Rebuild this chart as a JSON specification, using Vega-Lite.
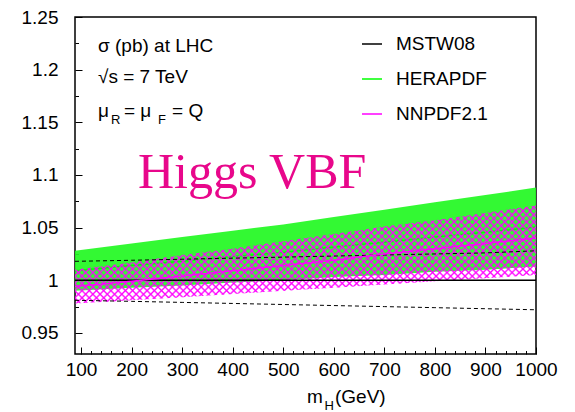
{
  "$schema": "https://vega.github.io/schema/vega-lite/v6.json",
  "width": 461,
  "height": 337,
  "autosize": "none",
  "padding": {"left": 75, "top": 17, "right": 39, "bottom": 58},
  "background": "white",
  "config": {
    "view": {"stroke": "black", "strokeWidth": 1.5},
    "font": "Liberation Sans",
    "axis": {"grid": false, "domain": false, "tickColor": "black", "tickWidth": 1, "labelColor": "black", "labelFont": "Liberation Sans", "labelFontSize": 19, "title": null},
    "text": {"font": "Liberation Sans", "fontSize": 19, "align": "left", "baseline": "alphabetic", "color": "black"}
  },
  "datasets": {
    "curves": [
      {"m": 88, "pdf": "MSTW08", "lo": 0.981, "c": 1.0, "hi": 1.018},
      {"m": 200, "pdf": "MSTW08", "lo": 0.980, "c": 1.0, "hi": 1.019},
      {"m": 300, "pdf": "MSTW08", "lo": 0.979, "c": 1.0, "hi": 1.020},
      {"m": 400, "pdf": "MSTW08", "lo": 0.978, "c": 1.0, "hi": 1.021},
      {"m": 500, "pdf": "MSTW08", "lo": 0.977, "c": 1.0, "hi": 1.022},
      {"m": 600, "pdf": "MSTW08", "lo": 0.976, "c": 1.0, "hi": 1.023},
      {"m": 700, "pdf": "MSTW08", "lo": 0.975, "c": 1.0, "hi": 1.024},
      {"m": 800, "pdf": "MSTW08", "lo": 0.974, "c": 1.0, "hi": 1.025},
      {"m": 900, "pdf": "MSTW08", "lo": 0.973, "c": 1.0, "hi": 1.026},
      {"m": 1000, "pdf": "MSTW08", "lo": 0.972, "c": 1.0, "hi": 1.028},
      {"m": 88, "pdf": "HERAPDF", "lo": 0.990, "c": 1.009, "hi": 1.028},
      {"m": 200, "pdf": "HERAPDF", "lo": 0.993, "c": 1.014, "hi": 1.035},
      {"m": 300, "pdf": "HERAPDF", "lo": 0.995, "c": 1.018, "hi": 1.041},
      {"m": 400, "pdf": "HERAPDF", "lo": 0.998, "c": 1.0225, "hi": 1.047},
      {"m": 500, "pdf": "HERAPDF", "lo": 1.000, "c": 1.0265, "hi": 1.053},
      {"m": 600, "pdf": "HERAPDF", "lo": 1.003, "c": 1.0315, "hi": 1.060},
      {"m": 700, "pdf": "HERAPDF", "lo": 1.005, "c": 1.036, "hi": 1.067},
      {"m": 800, "pdf": "HERAPDF", "lo": 1.008, "c": 1.041, "hi": 1.074},
      {"m": 900, "pdf": "HERAPDF", "lo": 1.010, "c": 1.0455, "hi": 1.081},
      {"m": 1000, "pdf": "HERAPDF", "lo": 1.013, "c": 1.0505, "hi": 1.088},
      {"m": 88, "pdf": "NNPDF2.1", "lo": 0.978, "c": 0.994, "hi": 1.010},
      {"m": 200, "pdf": "NNPDF2.1", "lo": 0.981, "c": 0.999, "hi": 1.017},
      {"m": 300, "pdf": "NNPDF2.1", "lo": 0.984, "c": 1.004, "hi": 1.024},
      {"m": 400, "pdf": "NNPDF2.1", "lo": 0.987, "c": 1.009, "hi": 1.030},
      {"m": 500, "pdf": "NNPDF2.1", "lo": 0.990, "c": 1.014, "hi": 1.037},
      {"m": 600, "pdf": "NNPDF2.1", "lo": 0.993, "c": 1.019, "hi": 1.044},
      {"m": 700, "pdf": "NNPDF2.1", "lo": 0.996, "c": 1.025, "hi": 1.051},
      {"m": 800, "pdf": "NNPDF2.1", "lo": 0.999, "c": 1.030, "hi": 1.057},
      {"m": 900, "pdf": "NNPDF2.1", "lo": 1.002, "c": 1.035, "hi": 1.064},
      {"m": 1000, "pdf": "NNPDF2.1", "lo": 1.005, "c": 1.040, "hi": 1.071}
    ]
  },
  "data": {"name": "curves"},
  "resolve": {"axis": {"x": "independent", "y": "independent"}},
  "layer": [
    {
      "transform": [{"filter": "datum.pdf === 'HERAPDF'"}],
      "mark": {"type": "area", "fill": "#22f822", "opacity": 0.92},
      "encoding": {
        "x": {"field": "m", "type": "quantitative", "scale": {"domain": [88, 1000], "nice": false, "zero": false},
              "axis": {"orient": "bottom", "values": [100, 200, 300, 400, 500, 600, 700, 800, 900, 1000], "format": "d", "tickSize": -7, "labelPadding": 13, "labelFlush": false}},
        "y": {"field": "lo", "type": "quantitative", "scale": {"domain": [0.93, 1.25], "nice": false, "zero": false},
              "axis": {"orient": "left", "values": [0.95, 1, 1.05, 1.1, 1.15, 1.2, 1.25], "format": "~g", "tickSize": -7, "labelPadding": 24, "labelFlush": false}},
        "y2": {"field": "hi"}
      }
    },
    {
      "transform": [{"filter": "datum.pdf === 'HERAPDF'"}],
      "mark": {"type": "line", "stroke": "#00ff00", "strokeWidth": 1.5},
      "encoding": {
        "x": {"field": "m", "type": "quantitative", "scale": {"domain": [88, 1000], "nice": false, "zero": false},
              "axis": {"orient": "bottom", "values": [120, 140, 160, 180, 220, 240, 260, 280, 320, 340, 360, 380, 420, 440, 460, 480, 520, 540, 560, 580, 620, 640, 660, 680, 720, 740, 760, 780, 820, 840, 860, 880, 920, 940, 960, 980], "labels": false, "tickSize": -3.5}},
        "y": {"field": "c", "type": "quantitative", "scale": {"domain": [0.93, 1.25], "nice": false, "zero": false},
              "axis": {"orient": "left", "values": [0.975, 1.025, 1.075, 1.125, 1.175, 1.225], "labels": false, "tickSize": -3.5}}
      }
    },
    {
      "transform": [{"filter": "datum.pdf === 'NNPDF2.1'"}],
      "mark": {"type": "area", "fill": {"gradient": "linear", "x1": 0, "y1": 0, "x2": 1.2, "y2": 0.2551, "stops": [
        {"offset": 0, "color": "rgba(255,0,255,0)"}, {"offset": 0.006, "color": "rgba(255,0,255,0)"}, {"offset": 0.0095, "color": "#ff00ff"}, {"offset": 0.0125, "color": "rgba(255,0,255,0)"}, {"offset": 0.0185, "color": "rgba(255,0,255,0)"}, {"offset": 0.022, "color": "#ff00ff"}, {"offset": 0.025, "color": "rgba(255,0,255,0)"}, {"offset": 0.031, "color": "rgba(255,0,255,0)"}, {"offset": 0.0345, "color": "#ff00ff"}, {"offset": 0.0375, "color": "rgba(255,0,255,0)"}, {"offset": 0.0435, "color": "rgba(255,0,255,0)"}, {"offset": 0.047, "color": "#ff00ff"},
        {"offset": 0.05, "color": "rgba(255,0,255,0)"}, {"offset": 0.056, "color": "rgba(255,0,255,0)"}, {"offset": 0.0595, "color": "#ff00ff"}, {"offset": 0.0625, "color": "rgba(255,0,255,0)"}, {"offset": 0.0685, "color": "rgba(255,0,255,0)"}, {"offset": 0.072, "color": "#ff00ff"}, {"offset": 0.075, "color": "rgba(255,0,255,0)"}, {"offset": 0.081, "color": "rgba(255,0,255,0)"}, {"offset": 0.0845, "color": "#ff00ff"}, {"offset": 0.0875, "color": "rgba(255,0,255,0)"}, {"offset": 0.0935, "color": "rgba(255,0,255,0)"}, {"offset": 0.097, "color": "#ff00ff"},
        {"offset": 0.1, "color": "rgba(255,0,255,0)"}, {"offset": 0.106, "color": "rgba(255,0,255,0)"}, {"offset": 0.1095, "color": "#ff00ff"}, {"offset": 0.1125, "color": "rgba(255,0,255,0)"}, {"offset": 0.1185, "color": "rgba(255,0,255,0)"}, {"offset": 0.122, "color": "#ff00ff"}, {"offset": 0.125, "color": "rgba(255,0,255,0)"}, {"offset": 0.131, "color": "rgba(255,0,255,0)"}, {"offset": 0.1345, "color": "#ff00ff"}, {"offset": 0.1375, "color": "rgba(255,0,255,0)"}, {"offset": 0.1435, "color": "rgba(255,0,255,0)"}, {"offset": 0.147, "color": "#ff00ff"},
        {"offset": 0.15, "color": "rgba(255,0,255,0)"}, {"offset": 0.156, "color": "rgba(255,0,255,0)"}, {"offset": 0.1595, "color": "#ff00ff"}, {"offset": 0.1625, "color": "rgba(255,0,255,0)"}, {"offset": 0.1685, "color": "rgba(255,0,255,0)"}, {"offset": 0.172, "color": "#ff00ff"}, {"offset": 0.175, "color": "rgba(255,0,255,0)"}, {"offset": 0.181, "color": "rgba(255,0,255,0)"}, {"offset": 0.1845, "color": "#ff00ff"}, {"offset": 0.1875, "color": "rgba(255,0,255,0)"}, {"offset": 0.1935, "color": "rgba(255,0,255,0)"}, {"offset": 0.197, "color": "#ff00ff"},
        {"offset": 0.2, "color": "rgba(255,0,255,0)"}, {"offset": 0.206, "color": "rgba(255,0,255,0)"}, {"offset": 0.2095, "color": "#ff00ff"}, {"offset": 0.2125, "color": "rgba(255,0,255,0)"}, {"offset": 0.2185, "color": "rgba(255,0,255,0)"}, {"offset": 0.222, "color": "#ff00ff"}, {"offset": 0.225, "color": "rgba(255,0,255,0)"}, {"offset": 0.231, "color": "rgba(255,0,255,0)"}, {"offset": 0.2345, "color": "#ff00ff"}, {"offset": 0.2375, "color": "rgba(255,0,255,0)"}, {"offset": 0.2435, "color": "rgba(255,0,255,0)"}, {"offset": 0.247, "color": "#ff00ff"},
        {"offset": 0.25, "color": "rgba(255,0,255,0)"}, {"offset": 0.256, "color": "rgba(255,0,255,0)"}, {"offset": 0.2595, "color": "#ff00ff"}, {"offset": 0.2625, "color": "rgba(255,0,255,0)"}, {"offset": 0.2685, "color": "rgba(255,0,255,0)"}, {"offset": 0.272, "color": "#ff00ff"}, {"offset": 0.275, "color": "rgba(255,0,255,0)"}, {"offset": 0.281, "color": "rgba(255,0,255,0)"}, {"offset": 0.2845, "color": "#ff00ff"}, {"offset": 0.2875, "color": "rgba(255,0,255,0)"}, {"offset": 0.2935, "color": "rgba(255,0,255,0)"}, {"offset": 0.297, "color": "#ff00ff"},
        {"offset": 0.3, "color": "rgba(255,0,255,0)"}, {"offset": 0.306, "color": "rgba(255,0,255,0)"}, {"offset": 0.3095, "color": "#ff00ff"}, {"offset": 0.3125, "color": "rgba(255,0,255,0)"}, {"offset": 0.3185, "color": "rgba(255,0,255,0)"}, {"offset": 0.322, "color": "#ff00ff"}, {"offset": 0.325, "color": "rgba(255,0,255,0)"}, {"offset": 0.331, "color": "rgba(255,0,255,0)"}, {"offset": 0.3345, "color": "#ff00ff"}, {"offset": 0.3375, "color": "rgba(255,0,255,0)"}, {"offset": 0.3435, "color": "rgba(255,0,255,0)"}, {"offset": 0.347, "color": "#ff00ff"},
        {"offset": 0.35, "color": "rgba(255,0,255,0)"}, {"offset": 0.356, "color": "rgba(255,0,255,0)"}, {"offset": 0.3595, "color": "#ff00ff"}, {"offset": 0.3625, "color": "rgba(255,0,255,0)"}, {"offset": 0.3685, "color": "rgba(255,0,255,0)"}, {"offset": 0.372, "color": "#ff00ff"}, {"offset": 0.375, "color": "rgba(255,0,255,0)"}, {"offset": 0.381, "color": "rgba(255,0,255,0)"}, {"offset": 0.3845, "color": "#ff00ff"}, {"offset": 0.3875, "color": "rgba(255,0,255,0)"}, {"offset": 0.3935, "color": "rgba(255,0,255,0)"}, {"offset": 0.397, "color": "#ff00ff"},
        {"offset": 0.4, "color": "rgba(255,0,255,0)"}, {"offset": 0.406, "color": "rgba(255,0,255,0)"}, {"offset": 0.4095, "color": "#ff00ff"}, {"offset": 0.4125, "color": "rgba(255,0,255,0)"}, {"offset": 0.4185, "color": "rgba(255,0,255,0)"}, {"offset": 0.422, "color": "#ff00ff"}, {"offset": 0.425, "color": "rgba(255,0,255,0)"}, {"offset": 0.431, "color": "rgba(255,0,255,0)"}, {"offset": 0.4345, "color": "#ff00ff"}, {"offset": 0.4375, "color": "rgba(255,0,255,0)"}, {"offset": 0.4435, "color": "rgba(255,0,255,0)"}, {"offset": 0.447, "color": "#ff00ff"},
        {"offset": 0.45, "color": "rgba(255,0,255,0)"}, {"offset": 0.456, "color": "rgba(255,0,255,0)"}, {"offset": 0.4595, "color": "#ff00ff"}, {"offset": 0.4625, "color": "rgba(255,0,255,0)"}, {"offset": 0.4685, "color": "rgba(255,0,255,0)"}, {"offset": 0.472, "color": "#ff00ff"}, {"offset": 0.475, "color": "rgba(255,0,255,0)"}, {"offset": 0.481, "color": "rgba(255,0,255,0)"}, {"offset": 0.4845, "color": "#ff00ff"}, {"offset": 0.4875, "color": "rgba(255,0,255,0)"}, {"offset": 0.4935, "color": "rgba(255,0,255,0)"}, {"offset": 0.497, "color": "#ff00ff"},
        {"offset": 0.5, "color": "rgba(255,0,255,0)"}, {"offset": 0.506, "color": "rgba(255,0,255,0)"}, {"offset": 0.5095, "color": "#ff00ff"}, {"offset": 0.5125, "color": "rgba(255,0,255,0)"}, {"offset": 0.5185, "color": "rgba(255,0,255,0)"}, {"offset": 0.522, "color": "#ff00ff"}, {"offset": 0.525, "color": "rgba(255,0,255,0)"}, {"offset": 0.531, "color": "rgba(255,0,255,0)"}, {"offset": 0.5345, "color": "#ff00ff"}, {"offset": 0.5375, "color": "rgba(255,0,255,0)"}, {"offset": 0.5435, "color": "rgba(255,0,255,0)"}, {"offset": 0.547, "color": "#ff00ff"},
        {"offset": 0.55, "color": "rgba(255,0,255,0)"}, {"offset": 0.556, "color": "rgba(255,0,255,0)"}, {"offset": 0.5595, "color": "#ff00ff"}, {"offset": 0.5625, "color": "rgba(255,0,255,0)"}, {"offset": 0.5685, "color": "rgba(255,0,255,0)"}, {"offset": 0.572, "color": "#ff00ff"}, {"offset": 0.575, "color": "rgba(255,0,255,0)"}, {"offset": 0.581, "color": "rgba(255,0,255,0)"}, {"offset": 0.5845, "color": "#ff00ff"}, {"offset": 0.5875, "color": "rgba(255,0,255,0)"}, {"offset": 0.5935, "color": "rgba(255,0,255,0)"}, {"offset": 0.597, "color": "#ff00ff"},
        {"offset": 0.6, "color": "rgba(255,0,255,0)"}, {"offset": 0.606, "color": "rgba(255,0,255,0)"}, {"offset": 0.6095, "color": "#ff00ff"}, {"offset": 0.6125, "color": "rgba(255,0,255,0)"}, {"offset": 0.6185, "color": "rgba(255,0,255,0)"}, {"offset": 0.622, "color": "#ff00ff"}, {"offset": 0.625, "color": "rgba(255,0,255,0)"}, {"offset": 0.631, "color": "rgba(255,0,255,0)"}, {"offset": 0.6345, "color": "#ff00ff"}, {"offset": 0.6375, "color": "rgba(255,0,255,0)"}, {"offset": 0.6435, "color": "rgba(255,0,255,0)"}, {"offset": 0.647, "color": "#ff00ff"},
        {"offset": 0.65, "color": "rgba(255,0,255,0)"}, {"offset": 0.656, "color": "rgba(255,0,255,0)"}, {"offset": 0.6595, "color": "#ff00ff"}, {"offset": 0.6625, "color": "rgba(255,0,255,0)"}, {"offset": 0.6685, "color": "rgba(255,0,255,0)"}, {"offset": 0.672, "color": "#ff00ff"}, {"offset": 0.675, "color": "rgba(255,0,255,0)"}, {"offset": 0.681, "color": "rgba(255,0,255,0)"}, {"offset": 0.6845, "color": "#ff00ff"}, {"offset": 0.6875, "color": "rgba(255,0,255,0)"}, {"offset": 0.6935, "color": "rgba(255,0,255,0)"}, {"offset": 0.697, "color": "#ff00ff"},
        {"offset": 0.7, "color": "rgba(255,0,255,0)"}, {"offset": 0.706, "color": "rgba(255,0,255,0)"}, {"offset": 0.7095, "color": "#ff00ff"}, {"offset": 0.7125, "color": "rgba(255,0,255,0)"}, {"offset": 0.7185, "color": "rgba(255,0,255,0)"}, {"offset": 0.722, "color": "#ff00ff"}, {"offset": 0.725, "color": "rgba(255,0,255,0)"}, {"offset": 0.731, "color": "rgba(255,0,255,0)"}, {"offset": 0.7345, "color": "#ff00ff"}, {"offset": 0.7375, "color": "rgba(255,0,255,0)"}, {"offset": 0.7435, "color": "rgba(255,0,255,0)"}, {"offset": 0.747, "color": "#ff00ff"},
        {"offset": 0.75, "color": "rgba(255,0,255,0)"}, {"offset": 0.756, "color": "rgba(255,0,255,0)"}, {"offset": 0.7595, "color": "#ff00ff"}, {"offset": 0.7625, "color": "rgba(255,0,255,0)"}, {"offset": 0.7685, "color": "rgba(255,0,255,0)"}, {"offset": 0.772, "color": "#ff00ff"}, {"offset": 0.775, "color": "rgba(255,0,255,0)"}, {"offset": 0.781, "color": "rgba(255,0,255,0)"}, {"offset": 0.7845, "color": "#ff00ff"}, {"offset": 0.7875, "color": "rgba(255,0,255,0)"}, {"offset": 0.7935, "color": "rgba(255,0,255,0)"}, {"offset": 0.797, "color": "#ff00ff"},
        {"offset": 0.8, "color": "rgba(255,0,255,0)"}, {"offset": 0.806, "color": "rgba(255,0,255,0)"}, {"offset": 0.8095, "color": "#ff00ff"}, {"offset": 0.8125, "color": "rgba(255,0,255,0)"}, {"offset": 0.8185, "color": "rgba(255,0,255,0)"}, {"offset": 0.822, "color": "#ff00ff"}, {"offset": 0.825, "color": "rgba(255,0,255,0)"}, {"offset": 0.831, "color": "rgba(255,0,255,0)"}, {"offset": 0.8345, "color": "#ff00ff"}, {"offset": 0.8375, "color": "rgba(255,0,255,0)"}, {"offset": 0.8435, "color": "rgba(255,0,255,0)"}, {"offset": 0.847, "color": "#ff00ff"},
        {"offset": 0.85, "color": "rgba(255,0,255,0)"}, {"offset": 0.856, "color": "rgba(255,0,255,0)"}, {"offset": 0.8595, "color": "#ff00ff"}, {"offset": 0.8625, "color": "rgba(255,0,255,0)"}, {"offset": 0.8685, "color": "rgba(255,0,255,0)"}, {"offset": 0.872, "color": "#ff00ff"}, {"offset": 0.875, "color": "rgba(255,0,255,0)"}, {"offset": 0.881, "color": "rgba(255,0,255,0)"}, {"offset": 0.8845, "color": "#ff00ff"}, {"offset": 0.8875, "color": "rgba(255,0,255,0)"}, {"offset": 0.8935, "color": "rgba(255,0,255,0)"}, {"offset": 0.897, "color": "#ff00ff"},
        {"offset": 0.9, "color": "rgba(255,0,255,0)"}, {"offset": 0.906, "color": "rgba(255,0,255,0)"}, {"offset": 0.9095, "color": "#ff00ff"}, {"offset": 0.9125, "color": "rgba(255,0,255,0)"}, {"offset": 0.9185, "color": "rgba(255,0,255,0)"}, {"offset": 0.922, "color": "#ff00ff"}, {"offset": 0.925, "color": "rgba(255,0,255,0)"}, {"offset": 0.931, "color": "rgba(255,0,255,0)"}, {"offset": 0.9345, "color": "#ff00ff"}, {"offset": 0.9375, "color": "rgba(255,0,255,0)"}, {"offset": 0.9435, "color": "rgba(255,0,255,0)"}, {"offset": 0.947, "color": "#ff00ff"},
        {"offset": 0.95, "color": "rgba(255,0,255,0)"}, {"offset": 0.956, "color": "rgba(255,0,255,0)"}, {"offset": 0.9595, "color": "#ff00ff"}, {"offset": 0.9625, "color": "rgba(255,0,255,0)"}, {"offset": 0.9685, "color": "rgba(255,0,255,0)"}, {"offset": 0.972, "color": "#ff00ff"}, {"offset": 0.975, "color": "rgba(255,0,255,0)"}, {"offset": 0.981, "color": "rgba(255,0,255,0)"}, {"offset": 0.9845, "color": "#ff00ff"}, {"offset": 0.9875, "color": "rgba(255,0,255,0)"}, {"offset": 0.9935, "color": "rgba(255,0,255,0)"}, {"offset": 0.997, "color": "#ff00ff"},
        {"offset": 1, "color": "rgba(255,0,255,0)"}
      ]}},
      "encoding": {
        "x": {"field": "m", "type": "quantitative", "scale": {"domain": [88, 1000], "nice": false, "zero": false}, "axis": null},
        "y": {"field": "lo", "type": "quantitative", "scale": {"domain": [0.93, 1.25], "nice": false, "zero": false}, "axis": null},
        "y2": {"field": "hi"}
      }
    },
    {
      "transform": [{"filter": "datum.pdf === 'NNPDF2.1'"}],
      "mark": {"type": "area", "fill": {"gradient": "linear", "x1": 0, "y1": 1, "x2": 1.2, "y2": 0.7449, "stops": [
        {"offset": 0, "color": "rgba(255,0,255,0)"}, {"offset": 0.006, "color": "rgba(255,0,255,0)"}, {"offset": 0.0095, "color": "#ff00ff"}, {"offset": 0.0125, "color": "rgba(255,0,255,0)"}, {"offset": 0.0185, "color": "rgba(255,0,255,0)"}, {"offset": 0.022, "color": "#ff00ff"}, {"offset": 0.025, "color": "rgba(255,0,255,0)"}, {"offset": 0.031, "color": "rgba(255,0,255,0)"}, {"offset": 0.0345, "color": "#ff00ff"}, {"offset": 0.0375, "color": "rgba(255,0,255,0)"}, {"offset": 0.0435, "color": "rgba(255,0,255,0)"}, {"offset": 0.047, "color": "#ff00ff"},
        {"offset": 0.05, "color": "rgba(255,0,255,0)"}, {"offset": 0.056, "color": "rgba(255,0,255,0)"}, {"offset": 0.0595, "color": "#ff00ff"}, {"offset": 0.0625, "color": "rgba(255,0,255,0)"}, {"offset": 0.0685, "color": "rgba(255,0,255,0)"}, {"offset": 0.072, "color": "#ff00ff"}, {"offset": 0.075, "color": "rgba(255,0,255,0)"}, {"offset": 0.081, "color": "rgba(255,0,255,0)"}, {"offset": 0.0845, "color": "#ff00ff"}, {"offset": 0.0875, "color": "rgba(255,0,255,0)"}, {"offset": 0.0935, "color": "rgba(255,0,255,0)"}, {"offset": 0.097, "color": "#ff00ff"},
        {"offset": 0.1, "color": "rgba(255,0,255,0)"}, {"offset": 0.106, "color": "rgba(255,0,255,0)"}, {"offset": 0.1095, "color": "#ff00ff"}, {"offset": 0.1125, "color": "rgba(255,0,255,0)"}, {"offset": 0.1185, "color": "rgba(255,0,255,0)"}, {"offset": 0.122, "color": "#ff00ff"}, {"offset": 0.125, "color": "rgba(255,0,255,0)"}, {"offset": 0.131, "color": "rgba(255,0,255,0)"}, {"offset": 0.1345, "color": "#ff00ff"}, {"offset": 0.1375, "color": "rgba(255,0,255,0)"}, {"offset": 0.1435, "color": "rgba(255,0,255,0)"}, {"offset": 0.147, "color": "#ff00ff"},
        {"offset": 0.15, "color": "rgba(255,0,255,0)"}, {"offset": 0.156, "color": "rgba(255,0,255,0)"}, {"offset": 0.1595, "color": "#ff00ff"}, {"offset": 0.1625, "color": "rgba(255,0,255,0)"}, {"offset": 0.1685, "color": "rgba(255,0,255,0)"}, {"offset": 0.172, "color": "#ff00ff"}, {"offset": 0.175, "color": "rgba(255,0,255,0)"}, {"offset": 0.181, "color": "rgba(255,0,255,0)"}, {"offset": 0.1845, "color": "#ff00ff"}, {"offset": 0.1875, "color": "rgba(255,0,255,0)"}, {"offset": 0.1935, "color": "rgba(255,0,255,0)"}, {"offset": 0.197, "color": "#ff00ff"},
        {"offset": 0.2, "color": "rgba(255,0,255,0)"}, {"offset": 0.206, "color": "rgba(255,0,255,0)"}, {"offset": 0.2095, "color": "#ff00ff"}, {"offset": 0.2125, "color": "rgba(255,0,255,0)"}, {"offset": 0.2185, "color": "rgba(255,0,255,0)"}, {"offset": 0.222, "color": "#ff00ff"}, {"offset": 0.225, "color": "rgba(255,0,255,0)"}, {"offset": 0.231, "color": "rgba(255,0,255,0)"}, {"offset": 0.2345, "color": "#ff00ff"}, {"offset": 0.2375, "color": "rgba(255,0,255,0)"}, {"offset": 0.2435, "color": "rgba(255,0,255,0)"}, {"offset": 0.247, "color": "#ff00ff"},
        {"offset": 0.25, "color": "rgba(255,0,255,0)"}, {"offset": 0.256, "color": "rgba(255,0,255,0)"}, {"offset": 0.2595, "color": "#ff00ff"}, {"offset": 0.2625, "color": "rgba(255,0,255,0)"}, {"offset": 0.2685, "color": "rgba(255,0,255,0)"}, {"offset": 0.272, "color": "#ff00ff"}, {"offset": 0.275, "color": "rgba(255,0,255,0)"}, {"offset": 0.281, "color": "rgba(255,0,255,0)"}, {"offset": 0.2845, "color": "#ff00ff"}, {"offset": 0.2875, "color": "rgba(255,0,255,0)"}, {"offset": 0.2935, "color": "rgba(255,0,255,0)"}, {"offset": 0.297, "color": "#ff00ff"},
        {"offset": 0.3, "color": "rgba(255,0,255,0)"}, {"offset": 0.306, "color": "rgba(255,0,255,0)"}, {"offset": 0.3095, "color": "#ff00ff"}, {"offset": 0.3125, "color": "rgba(255,0,255,0)"}, {"offset": 0.3185, "color": "rgba(255,0,255,0)"}, {"offset": 0.322, "color": "#ff00ff"}, {"offset": 0.325, "color": "rgba(255,0,255,0)"}, {"offset": 0.331, "color": "rgba(255,0,255,0)"}, {"offset": 0.3345, "color": "#ff00ff"}, {"offset": 0.3375, "color": "rgba(255,0,255,0)"}, {"offset": 0.3435, "color": "rgba(255,0,255,0)"}, {"offset": 0.347, "color": "#ff00ff"},
        {"offset": 0.35, "color": "rgba(255,0,255,0)"}, {"offset": 0.356, "color": "rgba(255,0,255,0)"}, {"offset": 0.3595, "color": "#ff00ff"}, {"offset": 0.3625, "color": "rgba(255,0,255,0)"}, {"offset": 0.3685, "color": "rgba(255,0,255,0)"}, {"offset": 0.372, "color": "#ff00ff"}, {"offset": 0.375, "color": "rgba(255,0,255,0)"}, {"offset": 0.381, "color": "rgba(255,0,255,0)"}, {"offset": 0.3845, "color": "#ff00ff"}, {"offset": 0.3875, "color": "rgba(255,0,255,0)"}, {"offset": 0.3935, "color": "rgba(255,0,255,0)"}, {"offset": 0.397, "color": "#ff00ff"},
        {"offset": 0.4, "color": "rgba(255,0,255,0)"}, {"offset": 0.406, "color": "rgba(255,0,255,0)"}, {"offset": 0.4095, "color": "#ff00ff"}, {"offset": 0.4125, "color": "rgba(255,0,255,0)"}, {"offset": 0.4185, "color": "rgba(255,0,255,0)"}, {"offset": 0.422, "color": "#ff00ff"}, {"offset": 0.425, "color": "rgba(255,0,255,0)"}, {"offset": 0.431, "color": "rgba(255,0,255,0)"}, {"offset": 0.4345, "color": "#ff00ff"}, {"offset": 0.4375, "color": "rgba(255,0,255,0)"}, {"offset": 0.4435, "color": "rgba(255,0,255,0)"}, {"offset": 0.447, "color": "#ff00ff"},
        {"offset": 0.45, "color": "rgba(255,0,255,0)"}, {"offset": 0.456, "color": "rgba(255,0,255,0)"}, {"offset": 0.4595, "color": "#ff00ff"}, {"offset": 0.4625, "color": "rgba(255,0,255,0)"}, {"offset": 0.4685, "color": "rgba(255,0,255,0)"}, {"offset": 0.472, "color": "#ff00ff"}, {"offset": 0.475, "color": "rgba(255,0,255,0)"}, {"offset": 0.481, "color": "rgba(255,0,255,0)"}, {"offset": 0.4845, "color": "#ff00ff"}, {"offset": 0.4875, "color": "rgba(255,0,255,0)"}, {"offset": 0.4935, "color": "rgba(255,0,255,0)"}, {"offset": 0.497, "color": "#ff00ff"},
        {"offset": 0.5, "color": "rgba(255,0,255,0)"}, {"offset": 0.506, "color": "rgba(255,0,255,0)"}, {"offset": 0.5095, "color": "#ff00ff"}, {"offset": 0.5125, "color": "rgba(255,0,255,0)"}, {"offset": 0.5185, "color": "rgba(255,0,255,0)"}, {"offset": 0.522, "color": "#ff00ff"}, {"offset": 0.525, "color": "rgba(255,0,255,0)"}, {"offset": 0.531, "color": "rgba(255,0,255,0)"}, {"offset": 0.5345, "color": "#ff00ff"}, {"offset": 0.5375, "color": "rgba(255,0,255,0)"}, {"offset": 0.5435, "color": "rgba(255,0,255,0)"}, {"offset": 0.547, "color": "#ff00ff"},
        {"offset": 0.55, "color": "rgba(255,0,255,0)"}, {"offset": 0.556, "color": "rgba(255,0,255,0)"}, {"offset": 0.5595, "color": "#ff00ff"}, {"offset": 0.5625, "color": "rgba(255,0,255,0)"}, {"offset": 0.5685, "color": "rgba(255,0,255,0)"}, {"offset": 0.572, "color": "#ff00ff"}, {"offset": 0.575, "color": "rgba(255,0,255,0)"}, {"offset": 0.581, "color": "rgba(255,0,255,0)"}, {"offset": 0.5845, "color": "#ff00ff"}, {"offset": 0.5875, "color": "rgba(255,0,255,0)"}, {"offset": 0.5935, "color": "rgba(255,0,255,0)"}, {"offset": 0.597, "color": "#ff00ff"},
        {"offset": 0.6, "color": "rgba(255,0,255,0)"}, {"offset": 0.606, "color": "rgba(255,0,255,0)"}, {"offset": 0.6095, "color": "#ff00ff"}, {"offset": 0.6125, "color": "rgba(255,0,255,0)"}, {"offset": 0.6185, "color": "rgba(255,0,255,0)"}, {"offset": 0.622, "color": "#ff00ff"}, {"offset": 0.625, "color": "rgba(255,0,255,0)"}, {"offset": 0.631, "color": "rgba(255,0,255,0)"}, {"offset": 0.6345, "color": "#ff00ff"}, {"offset": 0.6375, "color": "rgba(255,0,255,0)"}, {"offset": 0.6435, "color": "rgba(255,0,255,0)"}, {"offset": 0.647, "color": "#ff00ff"},
        {"offset": 0.65, "color": "rgba(255,0,255,0)"}, {"offset": 0.656, "color": "rgba(255,0,255,0)"}, {"offset": 0.6595, "color": "#ff00ff"}, {"offset": 0.6625, "color": "rgba(255,0,255,0)"}, {"offset": 0.6685, "color": "rgba(255,0,255,0)"}, {"offset": 0.672, "color": "#ff00ff"}, {"offset": 0.675, "color": "rgba(255,0,255,0)"}, {"offset": 0.681, "color": "rgba(255,0,255,0)"}, {"offset": 0.6845, "color": "#ff00ff"}, {"offset": 0.6875, "color": "rgba(255,0,255,0)"}, {"offset": 0.6935, "color": "rgba(255,0,255,0)"}, {"offset": 0.697, "color": "#ff00ff"},
        {"offset": 0.7, "color": "rgba(255,0,255,0)"}, {"offset": 0.706, "color": "rgba(255,0,255,0)"}, {"offset": 0.7095, "color": "#ff00ff"}, {"offset": 0.7125, "color": "rgba(255,0,255,0)"}, {"offset": 0.7185, "color": "rgba(255,0,255,0)"}, {"offset": 0.722, "color": "#ff00ff"}, {"offset": 0.725, "color": "rgba(255,0,255,0)"}, {"offset": 0.731, "color": "rgba(255,0,255,0)"}, {"offset": 0.7345, "color": "#ff00ff"}, {"offset": 0.7375, "color": "rgba(255,0,255,0)"}, {"offset": 0.7435, "color": "rgba(255,0,255,0)"}, {"offset": 0.747, "color": "#ff00ff"},
        {"offset": 0.75, "color": "rgba(255,0,255,0)"}, {"offset": 0.756, "color": "rgba(255,0,255,0)"}, {"offset": 0.7595, "color": "#ff00ff"}, {"offset": 0.7625, "color": "rgba(255,0,255,0)"}, {"offset": 0.7685, "color": "rgba(255,0,255,0)"}, {"offset": 0.772, "color": "#ff00ff"}, {"offset": 0.775, "color": "rgba(255,0,255,0)"}, {"offset": 0.781, "color": "rgba(255,0,255,0)"}, {"offset": 0.7845, "color": "#ff00ff"}, {"offset": 0.7875, "color": "rgba(255,0,255,0)"}, {"offset": 0.7935, "color": "rgba(255,0,255,0)"}, {"offset": 0.797, "color": "#ff00ff"},
        {"offset": 0.8, "color": "rgba(255,0,255,0)"}, {"offset": 0.806, "color": "rgba(255,0,255,0)"}, {"offset": 0.8095, "color": "#ff00ff"}, {"offset": 0.8125, "color": "rgba(255,0,255,0)"}, {"offset": 0.8185, "color": "rgba(255,0,255,0)"}, {"offset": 0.822, "color": "#ff00ff"}, {"offset": 0.825, "color": "rgba(255,0,255,0)"}, {"offset": 0.831, "color": "rgba(255,0,255,0)"}, {"offset": 0.8345, "color": "#ff00ff"}, {"offset": 0.8375, "color": "rgba(255,0,255,0)"}, {"offset": 0.8435, "color": "rgba(255,0,255,0)"}, {"offset": 0.847, "color": "#ff00ff"},
        {"offset": 0.85, "color": "rgba(255,0,255,0)"}, {"offset": 0.856, "color": "rgba(255,0,255,0)"}, {"offset": 0.8595, "color": "#ff00ff"}, {"offset": 0.8625, "color": "rgba(255,0,255,0)"}, {"offset": 0.8685, "color": "rgba(255,0,255,0)"}, {"offset": 0.872, "color": "#ff00ff"}, {"offset": 0.875, "color": "rgba(255,0,255,0)"}, {"offset": 0.881, "color": "rgba(255,0,255,0)"}, {"offset": 0.8845, "color": "#ff00ff"}, {"offset": 0.8875, "color": "rgba(255,0,255,0)"}, {"offset": 0.8935, "color": "rgba(255,0,255,0)"}, {"offset": 0.897, "color": "#ff00ff"},
        {"offset": 0.9, "color": "rgba(255,0,255,0)"}, {"offset": 0.906, "color": "rgba(255,0,255,0)"}, {"offset": 0.9095, "color": "#ff00ff"}, {"offset": 0.9125, "color": "rgba(255,0,255,0)"}, {"offset": 0.9185, "color": "rgba(255,0,255,0)"}, {"offset": 0.922, "color": "#ff00ff"}, {"offset": 0.925, "color": "rgba(255,0,255,0)"}, {"offset": 0.931, "color": "rgba(255,0,255,0)"}, {"offset": 0.9345, "color": "#ff00ff"}, {"offset": 0.9375, "color": "rgba(255,0,255,0)"}, {"offset": 0.9435, "color": "rgba(255,0,255,0)"}, {"offset": 0.947, "color": "#ff00ff"},
        {"offset": 0.95, "color": "rgba(255,0,255,0)"}, {"offset": 0.956, "color": "rgba(255,0,255,0)"}, {"offset": 0.9595, "color": "#ff00ff"}, {"offset": 0.9625, "color": "rgba(255,0,255,0)"}, {"offset": 0.9685, "color": "rgba(255,0,255,0)"}, {"offset": 0.972, "color": "#ff00ff"}, {"offset": 0.975, "color": "rgba(255,0,255,0)"}, {"offset": 0.981, "color": "rgba(255,0,255,0)"}, {"offset": 0.9845, "color": "#ff00ff"}, {"offset": 0.9875, "color": "rgba(255,0,255,0)"}, {"offset": 0.9935, "color": "rgba(255,0,255,0)"}, {"offset": 0.997, "color": "#ff00ff"},
        {"offset": 1, "color": "rgba(255,0,255,0)"}
      ]}},
      "encoding": {
        "x": {"field": "m", "type": "quantitative", "scale": {"domain": [88, 1000], "nice": false, "zero": false}, "axis": null},
        "y": {"field": "lo", "type": "quantitative", "scale": {"domain": [0.93, 1.25], "nice": false, "zero": false}, "axis": null},
        "y2": {"field": "hi"}
      }
    },
    {
      "transform": [{"filter": "datum.pdf === 'MSTW08'"}],
      "mark": {"type": "line", "stroke": "black", "strokeWidth": 1, "strokeDash": [4, 3]},
      "encoding": {
        "x": {"field": "m", "type": "quantitative", "scale": {"domain": [88, 1000], "nice": false, "zero": false}, "axis": null},
        "y": {"field": "hi", "type": "quantitative", "scale": {"domain": [0.93, 1.25], "nice": false, "zero": false}, "axis": null}
      }
    },
    {
      "transform": [{"filter": "datum.pdf === 'MSTW08'"}],
      "mark": {"type": "line", "stroke": "black", "strokeWidth": 1, "strokeDash": [4, 3]},
      "encoding": {
        "x": {"field": "m", "type": "quantitative", "scale": {"domain": [88, 1000], "nice": false, "zero": false}, "axis": null},
        "y": {"field": "lo", "type": "quantitative", "scale": {"domain": [0.93, 1.25], "nice": false, "zero": false}, "axis": null}
      }
    },
    {
      "transform": [{"filter": "datum.pdf !== 'HERAPDF'"}],
      "mark": {"type": "line", "strokeWidth": 1.5},
      "encoding": {
        "x": {"field": "m", "type": "quantitative", "scale": {"domain": [88, 1000], "nice": false, "zero": false}, "axis": null},
        "y": {"field": "c", "type": "quantitative", "scale": {"domain": [0.93, 1.25], "nice": false, "zero": false}, "axis": null},
        "color": {"field": "pdf", "type": "nominal",
                  "scale": {"domain": ["MSTW08", "HERAPDF", "NNPDF2.1"], "range": ["black", "#00ff00", "#ff00ff"]},
                  "legend": {"orient": "none", "legendX": 286, "legendY": 16, "title": null, "symbolType": "stroke", "symbolSize": 400, "symbolStrokeWidth": 1.5, "labelFont": "Liberation Sans", "labelFontSize": 19, "labelColor": "black", "labelOffset": 13, "rowPadding": 14, "padding": 0}}
      }
    },
    {
      "data": {"values": [{}]},
      "mark": {"type": "text", "text": "σ (pb) at LHC"},
      "encoding": {
        "x": {"datum": 133.5, "type": "quantitative", "scale": {"domain": [88, 1000], "nice": false, "zero": false}, "axis": null},
        "y": {"datum": 1.2168, "type": "quantitative", "scale": {"domain": [0.93, 1.25], "nice": false, "zero": false}, "axis": null}
      }
    },
    {
      "data": {"values": [{}]},
      "mark": {"type": "text", "text": "√s = 7 TeV"},
      "encoding": {
        "x": {"datum": 133.5, "type": "quantitative", "scale": {"domain": [88, 1000], "nice": false, "zero": false}, "axis": null},
        "y": {"datum": 1.1873, "type": "quantitative", "scale": {"domain": [0.93, 1.25], "nice": false, "zero": false}, "axis": null}
      }
    },
    {
      "data": {"values": [{}]},
      "mark": {"type": "text", "text": "μ"},
      "encoding": {
        "x": {"datum": 133.5, "type": "quantitative", "scale": {"domain": [88, 1000], "nice": false, "zero": false}, "axis": null},
        "y": {"datum": 1.1551, "type": "quantitative", "scale": {"domain": [0.93, 1.25], "nice": false, "zero": false}, "axis": null}
      }
    },
    {
      "data": {"values": [{}]},
      "mark": {"type": "text", "text": "R", "fontSize": 13, "dy": 7},
      "encoding": {
        "x": {"datum": 159.2, "type": "quantitative", "scale": {"domain": [88, 1000], "nice": false, "zero": false}, "axis": null},
        "y": {"datum": 1.1551, "type": "quantitative", "scale": {"domain": [0.93, 1.25], "nice": false, "zero": false}, "axis": null}
      }
    },
    {
      "data": {"values": [{}]},
      "mark": {"type": "text", "text": "= μ"},
      "encoding": {
        "x": {"datum": 184.9, "type": "quantitative", "scale": {"domain": [88, 1000], "nice": false, "zero": false}, "axis": null},
        "y": {"datum": 1.1551, "type": "quantitative", "scale": {"domain": [0.93, 1.25], "nice": false, "zero": false}, "axis": null}
      }
    },
    {
      "data": {"values": [{}]},
      "mark": {"type": "text", "text": "F", "fontSize": 13, "dy": 7},
      "encoding": {
        "x": {"datum": 252.2, "type": "quantitative", "scale": {"domain": [88, 1000], "nice": false, "zero": false}, "axis": null},
        "y": {"datum": 1.1551, "type": "quantitative", "scale": {"domain": [0.93, 1.25], "nice": false, "zero": false}, "axis": null}
      }
    },
    {
      "data": {"values": [{}]},
      "mark": {"type": "text", "text": "= Q"},
      "encoding": {
        "x": {"datum": 279.9, "type": "quantitative", "scale": {"domain": [88, 1000], "nice": false, "zero": false}, "axis": null},
        "y": {"datum": 1.1551, "type": "quantitative", "scale": {"domain": [0.93, 1.25], "nice": false, "zero": false}, "axis": null}
      }
    },
    {
      "data": {"values": [{}]},
      "mark": {"type": "text", "text": "Higgs VBF", "font": "Liberation Serif", "fontSize": 50, "color": "#e8078b"},
      "encoding": {
        "x": {"datum": 212.6, "type": "quantitative", "scale": {"domain": [88, 1000], "nice": false, "zero": false}, "axis": null},
        "y": {"datum": 1.0876, "type": "quantitative", "scale": {"domain": [0.93, 1.25], "nice": false, "zero": false}, "axis": null}
      }
    },
    {
      "data": {"values": [{}]},
      "mark": {"type": "text", "text": "m"},
      "encoding": {
        "x": {"datum": 547, "type": "quantitative", "scale": {"domain": [88, 1000], "nice": false, "zero": false}, "axis": null},
        "y": {"datum": 0.8834, "type": "quantitative", "scale": {"domain": [0.93, 1.25], "nice": false, "zero": false}, "axis": null}
      }
    },
    {
      "data": {"values": [{}]},
      "mark": {"type": "text", "text": "H", "fontSize": 13, "dy": 7},
      "encoding": {
        "x": {"datum": 581.6, "type": "quantitative", "scale": {"domain": [88, 1000], "nice": false, "zero": false}, "axis": null},
        "y": {"datum": 0.8834, "type": "quantitative", "scale": {"domain": [0.93, 1.25], "nice": false, "zero": false}, "axis": null}
      }
    },
    {
      "data": {"values": [{}]},
      "mark": {"type": "text", "text": "(GeV)"},
      "encoding": {
        "x": {"datum": 602.3, "type": "quantitative", "scale": {"domain": [88, 1000], "nice": false, "zero": false}, "axis": null},
        "y": {"datum": 0.8834, "type": "quantitative", "scale": {"domain": [0.93, 1.25], "nice": false, "zero": false}, "axis": null}
      }
    }
  ]
}
